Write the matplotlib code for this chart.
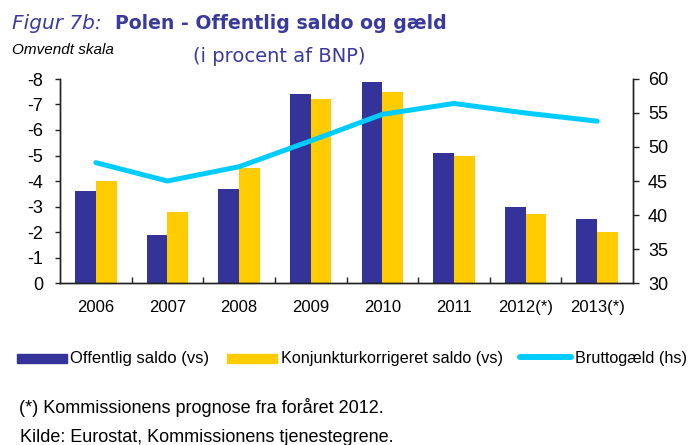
import matplotlib
matplotlib.use("Agg")
import matplotlib.pyplot as plt
from matplotlib.patches import Rectangle
from matplotlib.lines import Line2D
import numpy as np

plt.rcParams['font.family'] = ['Liberation Sans', 'DejaVu Sans']
plt.rcParams['axes.unicode_minus'] = False

years = ["2006", "2007", "2008", "2009", "2010", "2011", "2012(*)", "2013(*)"]
offentlig_saldo = [-3.6, -1.9, -3.7, -7.4, -7.9, -5.1, -3.0, -2.5]
konjunktur_saldo = [-4.0, -2.8, -4.5, -7.2, -7.5, -5.0, -2.7, -2.0]
bruttogaeld = [47.7, 45.0, 47.1, 50.9, 54.8, 56.4, 55.0, 53.8]
left_ticks = [-8, -7, -6, -5, -4, -3, -2, -1, 0]
right_ticks = [30, 35, 40, 45, 50, 55, 60]
legend_labels = ["Offentlig saldo (vs)", "Konjunkturkorrigeret saldo (vs)", "Bruttogæld (hs)"]

BLUE = '#333399'
YELLOW = '#FFCC00'
CYAN = '#00CCFF'
TITLE = '#3A3A9E'
AXC = '#222222'

W, H = 689, 445
fig = plt.figure(figsize=(W / 100, H / 100), dpi=100)

def fx(px):
    return px / W

def fy(py):
    return 1 - py / H

ax = fig.add_axes([fx(60), fy(283), fx(633) - fx(60), fy(79) - fy(283)])
x = np.arange(len(years))
bw = 0.29
ax.bar(x - bw / 2, offentlig_saldo, width=bw, color=BLUE, zorder=2)
ax.bar(x + bw / 2, konjunktur_saldo, width=bw, color=YELLOW, zorder=2)
ax.set_xlim(-0.5, len(years) - 0.5)
ax.set_ylim(0, -8)
ax.set_yticks(left_ticks)
ax.set_yticklabels([str(t) for t in left_ticks])
ax.set_xticks(x)
ax.set_xticklabels(years)
ax.set_xticks(x[:-1] + 0.5, minor=True)
ax.tick_params(axis='x', which='major', length=0, pad=12, labelsize=12)
ax.tick_params(axis='x', which='minor', direction='in', length=4.3, width=1, color=AXC)
ax.tick_params(axis='y', direction='out', length=3.8, width=1, color=AXC, pad=8.4, labelsize=13)
ax.spines['top'].set_visible(False)
for s in ['left', 'bottom', 'right']:
    ax.spines[s].set_color(AXC)
    ax.spines[s].set_linewidth(1)

ax2 = ax.twinx()
ax2.plot(x, bruttogaeld, color=CYAN, lw=3.6, solid_capstyle='round', solid_joinstyle='round', zorder=3)
ax2.set_ylim(30, 60)
ax2.set_yticks(right_ticks)
ax2.tick_params(axis='y', direction='out', length=4.3, width=1, color=AXC, pad=6.5, labelsize=13)
ax2.spines['top'].set_visible(False)
for s in ['left', 'bottom', 'right']:
    ax2.spines[s].set_color(AXC)
    ax2.spines[s].set_linewidth(1)

# Titles
fig.text(fx(12.5), fy(29), "Figur 7b:", fontsize=14.5, style='italic', color=TITLE, va='baseline', ha='left',
         family=['DejaVu Sans'])
fig.text(fx(115), fy(29), "Polen - Offentlig saldo og gæld", fontsize=13.6, fontweight='bold', color=TITLE,
         va='baseline', ha='left', family=['DejaVu Sans'])
fig.text(fx(12.5), fy(54), "Omvendt skala", fontsize=11, style='italic', color='black', va='baseline', ha='left')
fig.text(fx(193), fy(56), "(i procent af BNP)", fontsize=14, color=TITLE, va='center', ha='left',
         family=['DejaVu Sans'])

# Legend
ly = 358
fig.patches.append(Rectangle((fx(17), fy(ly + 4.5)), fx(50), fy(ly - 4.5) - fy(ly + 4.5),
                             transform=fig.transFigure, color=BLUE, figure=fig))
fig.text(fx(70), fy(ly), legend_labels[0], fontsize=12, va='center', ha='left')
fig.patches.append(Rectangle((fx(227), fy(ly + 4.5)), fx(50), fy(ly - 4.5) - fy(ly + 4.5),
                             transform=fig.transFigure, color=YELLOW, figure=fig))
fig.text(fx(281), fy(ly), legend_labels[1], fontsize=11.7, va='center', ha='left')
fig.lines.append(Line2D([fx(520), fx(571)], [fy(ly - 1), fy(ly - 1)], transform=fig.transFigure,
                        color=CYAN, lw=4.3, solid_capstyle='round', figure=fig))
fig.text(fx(575), fy(ly), legend_labels[2], fontsize=11.7, va='center', ha='left')

# Footnotes
fig.text(fx(19), fy(413), "(*) Kommissionens prognose fra foråret 2012.", fontsize=13, va='baseline', ha='left')
fig.text(fx(20), fy(442), "Kilde: Eurostat, Kommissionens tjenestegrene.", fontsize=13, va='baseline', ha='left')

fig.savefig("out.png", dpi=100)
